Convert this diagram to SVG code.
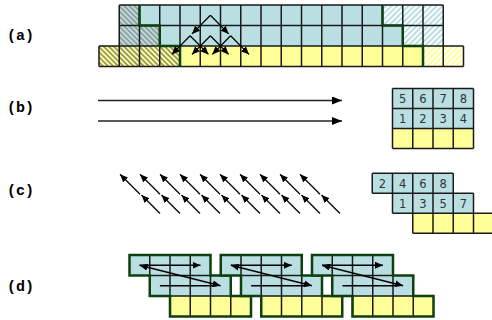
<svg xmlns="http://www.w3.org/2000/svg" width="492" height="320" viewBox="0 0 492 320">
<style>
.lbl{font-family:"Liberation Mono","Courier New",monospace;font-weight:bold;font-size:15px;fill:#000}
.num{font-family:"DejaVu Sans","Verdana",sans-serif;font-size:11.5px;fill:#333;text-anchor:middle}
.grid{fill:none;stroke:#1a1a1a;stroke-width:1.5}
.green{fill:none;stroke:#0e3f0e;stroke-width:2.5}
.blue{fill:#b9dfe3}
.yel{fill:#ffff99}
.arr{fill:none;stroke:#000;stroke-width:1.3}
.big{fill:none;stroke:#222;stroke-width:1.3}
</style>
<defs>
<pattern id="hdb" patternUnits="userSpaceOnUse" width="3.6" height="3.6" patternTransform="rotate(-45)">
<rect width="3.6" height="3.6" fill="#b9dfe3"/><rect width="1.6" height="3.6" fill="#8f9590"/>
</pattern>
<pattern id="hdy" patternUnits="userSpaceOnUse" width="3.6" height="3.6" patternTransform="rotate(-45)">
<rect width="3.6" height="3.6" fill="#ffff99"/><rect width="1.6" height="3.6" fill="#8c8c68"/>
</pattern>
<pattern id="hlb" patternUnits="userSpaceOnUse" width="4" height="4" patternTransform="rotate(45)">
<rect width="4" height="4" fill="#ffffff"/><rect width="2" height="4" fill="#b9dfe3"/>
</pattern>
<pattern id="hly" patternUnits="userSpaceOnUse" width="4" height="4" patternTransform="rotate(45)">
<rect width="4" height="4" fill="#ffffff"/><rect width="2" height="4" fill="#ffff99"/>
</pattern>
<marker id="hs" markerUnits="userSpaceOnUse" markerWidth="8" markerHeight="7" refX="8" refY="3.5" orient="auto-start-reverse">
<path d="M0,0 L8,3.5 L0,7 z" fill="#000"/>
</marker>
<marker id="hb" markerUnits="userSpaceOnUse" markerWidth="10" markerHeight="8" refX="10" refY="4" orient="auto">
<path d="M0,0 L10,4 L0,8 z" fill="#000"/>
</marker>
</defs>
<rect width="492" height="320" fill="#fff"/>

<g id="labels">
<text class="lbl" x="7" y="40">(a)</text>
<text class="lbl" x="7" y="112">(b)</text>
<text class="lbl" x="7" y="195">(c)</text>
<text class="lbl" x="7" y="291">(d)</text>
</g>

<g id="panel-a">
<rect x="119.25" y="5" width="20.25" height="20.5" fill="url(#hdb)"/>
<rect class="blue" x="139.5" y="5" width="243" height="20.5"/>
<rect x="382.5" y="5" width="60.75" height="20.5" fill="url(#hlb)"/>
<rect x="119.25" y="25.5" width="40.5" height="20.5" fill="url(#hdb)"/>
<rect class="blue" x="159.75" y="25.5" width="243" height="20.5"/>
<rect x="402.75" y="25.5" width="40.5" height="20.5" fill="url(#hlb)"/>
<rect x="99" y="46" width="81" height="20.5" fill="url(#hdy)"/>
<rect class="yel" x="180" y="46" width="243" height="20.5"/>
<rect x="423" y="46" width="40.5" height="20.5" fill="url(#hly)"/>
<path class="grid" d="M119.25 5H443.25M119.25 25.5H443.25M99 46H463.5M99 66.5H463.5M99 46V66.5M463.5 46V66.5M119.25 5V66.5M139.5 5V66.5M159.75 5V66.5M180 5V66.5M200.25 5V66.5M220.5 5V66.5M240.75 5V66.5M261 5V66.5M281.25 5V66.5M301.5 5V66.5M321.75 5V66.5M342 5V66.5M362.25 5V66.5M382.5 5V66.5M402.75 5V66.5M423 5V66.5M443.25 5V66.5"/>
<polyline class="green" points="139.5,5 139.5,25.5 159.75,25.5 159.75,46 180,46 180,66.5"/>
<polyline class="green" points="382.5,5 382.5,25.5 402.75,25.5 402.75,46 423,46 423,66.5"/>
</g>

<g id="connectors-a" class="arr" marker-end="url(#hs)">
<line x1="210.4" y1="15.25" x2="192" y2="33.9"/>
<line x1="210.4" y1="15.25" x2="228.7" y2="33.9"/>
<line x1="190.1" y1="35.75" x2="171.8" y2="54.4"/>
<line x1="190.1" y1="35.75" x2="208.5" y2="54.4"/>
<line x1="210.4" y1="35.75" x2="192" y2="54.4"/>
<line x1="210.4" y1="35.75" x2="228.7" y2="54.4"/>
<line x1="230.6" y1="35.75" x2="212.3" y2="54.4"/>
<line x1="230.6" y1="35.75" x2="249" y2="54.4"/>
</g>

<g id="connectors-b" class="big" marker-end="url(#hb)">
<line x1="98" y1="100.5" x2="342" y2="100.5"/>
<line x1="98" y1="121" x2="342" y2="121"/>
</g>

<g id="panel-b">
<rect class="blue" x="392.5" y="88.5" width="81" height="40"/>
<rect class="yel" x="392.5" y="128.5" width="81" height="20"/>
<path class="grid" d="M392.5 88.5H473.5M392.5 108.5H473.5M392.5 128.5H473.5M392.5 148.5H473.5M392.5 88.5V148.5M412.75 88.5V148.5M433 88.5V148.5M453.25 88.5V148.5M473.5 88.5V148.5"/>
<text class="num" x="402.6" y="102.7">5</text>
<text class="num" x="422.9" y="102.7">6</text>
<text class="num" x="443.1" y="102.7">7</text>
<text class="num" x="463.4" y="102.7">8</text>
<text class="num" x="402.6" y="122.7">1</text>
<text class="num" x="422.9" y="122.7">2</text>
<text class="num" x="443.1" y="122.7">3</text>
<text class="num" x="463.4" y="122.7">4</text>
</g>

<g id="connectors-c" class="arr" marker-end="url(#hs)">
<line x1="140" y1="194.3" x2="120" y2="174.3"/>
<line x1="160" y1="194.3" x2="140" y2="174.3"/>
<line x1="180" y1="194.3" x2="160" y2="174.3"/>
<line x1="200" y1="194.3" x2="180" y2="174.3"/>
<line x1="220" y1="194.3" x2="200" y2="174.3"/>
<line x1="240" y1="194.3" x2="220" y2="174.3"/>
<line x1="260" y1="194.3" x2="240" y2="174.3"/>
<line x1="280" y1="194.3" x2="260" y2="174.3"/>
<line x1="300" y1="194.3" x2="280" y2="174.3"/>
<line x1="320" y1="194.3" x2="300" y2="174.3"/>
<line x1="160" y1="213.5" x2="141.5" y2="195"/>
<line x1="180" y1="213.5" x2="161.5" y2="195"/>
<line x1="200" y1="213.5" x2="181.5" y2="195"/>
<line x1="220" y1="213.5" x2="201.5" y2="195"/>
<line x1="240" y1="213.5" x2="221.5" y2="195"/>
<line x1="260" y1="213.5" x2="241.5" y2="195"/>
<line x1="280" y1="213.5" x2="261.5" y2="195"/>
<line x1="300" y1="213.5" x2="281.5" y2="195"/>
<line x1="320" y1="213.5" x2="301.5" y2="195"/>
<line x1="340" y1="213.5" x2="321.5" y2="195"/>
</g>

<g id="panel-c">
<rect class="blue" x="372.25" y="173.3" width="81" height="20"/>
<rect class="blue" x="392.5" y="193.3" width="81" height="20"/>
<rect class="yel" x="412.75" y="213.3" width="81" height="20"/>
<path class="grid" d="M372.25 173.3H453.25M372.25 193.3H473.5M392.5 213.3H493.75M412.75 233.3H493.75M372.25 173.3V193.3M392.5 173.3V213.3M412.75 173.3V233.3M433 173.3V233.3M453.25 173.3V233.3M473.5 193.3V233.3"/>
<text class="num" x="382.4" y="187.5">2</text>
<text class="num" x="402.6" y="187.5">4</text>
<text class="num" x="422.9" y="187.5">6</text>
<text class="num" x="443.1" y="187.5">8</text>
<text class="num" x="402.6" y="207.5">1</text>
<text class="num" x="422.9" y="207.5">3</text>
<text class="num" x="443.1" y="207.5">5</text>
<text class="num" x="463.4" y="207.5">7</text>
</g>

<g id="block-d1" transform="translate(129.5,0)">
<rect class="blue" x="0" y="255" width="81" height="20.5"/>
<rect class="blue" x="20.25" y="275.5" width="81" height="20.5"/>
<rect class="yel" x="40.5" y="296" width="81" height="20.5"/>
<path class="grid" d="M20.25 255V296M40.5 255V316.5M60.75 255V316.5M81 275.5V316.5M101.25 296V316.5M20.25 275.5H81M40.5 296H101.25"/>
<polygon class="green" stroke-width="2" points="0,255 81,255 81,275.5 101.25,275.5 101.25,296 121.5,296 121.5,316.5 40.5,316.5 40.5,296 20.25,296 20.25,275.5 0,275.5"/>
</g>
<g id="block-d2" transform="translate(220.75,0)">
<rect class="blue" x="0" y="255" width="81" height="20.5"/>
<rect class="blue" x="20.25" y="275.5" width="81" height="20.5"/>
<rect class="yel" x="40.5" y="296" width="81" height="20.5"/>
<path class="grid" d="M20.25 255V296M40.5 255V316.5M60.75 255V316.5M81 275.5V316.5M101.25 296V316.5M20.25 275.5H81M40.5 296H101.25"/>
<polygon class="green" stroke-width="2" points="0,255 81,255 81,275.5 101.25,275.5 101.25,296 121.5,296 121.5,316.5 40.5,316.5 40.5,296 20.25,296 20.25,275.5 0,275.5"/>
</g>
<g id="block-d3" transform="translate(312,0)">
<rect class="blue" x="0" y="255" width="81" height="20.5"/>
<rect class="blue" x="20.25" y="275.5" width="81" height="20.5"/>
<rect class="yel" x="40.5" y="296" width="81" height="20.5"/>
<path class="grid" d="M20.25 255V296M40.5 255V316.5M60.75 255V316.5M81 275.5V316.5M101.25 296V316.5M20.25 275.5H81M40.5 296H101.25"/>
<polygon class="green" stroke-width="2" points="0,255 81,255 81,275.5 101.25,275.5 101.25,296 121.5,296 121.5,316.5 40.5,316.5 40.5,296 20.25,296 20.25,275.5 0,275.5"/>
</g>

<g id="connectors-d" class="arr">
<line x1="139.6" y1="265.25" x2="200.5" y2="265.25" marker-end="url(#hs)"/>
<line x1="139.6" y1="265.25" x2="220.6" y2="285.75" marker-start="url(#hs)" marker-end="url(#hs)"/>
<line x1="159.9" y1="285.75" x2="215" y2="285.75"/>
<line x1="230.9" y1="265.25" x2="291.8" y2="265.25" marker-end="url(#hs)"/>
<line x1="230.9" y1="265.25" x2="311.9" y2="285.75" marker-start="url(#hs)" marker-end="url(#hs)"/>
<line x1="251.1" y1="285.75" x2="306" y2="285.75"/>
<line x1="322.1" y1="265.25" x2="383" y2="265.25" marker-end="url(#hs)"/>
<line x1="322.1" y1="265.25" x2="403.1" y2="285.75" marker-start="url(#hs)" marker-end="url(#hs)"/>
<line x1="342.4" y1="285.75" x2="397" y2="285.75"/>
</g>
</svg>
